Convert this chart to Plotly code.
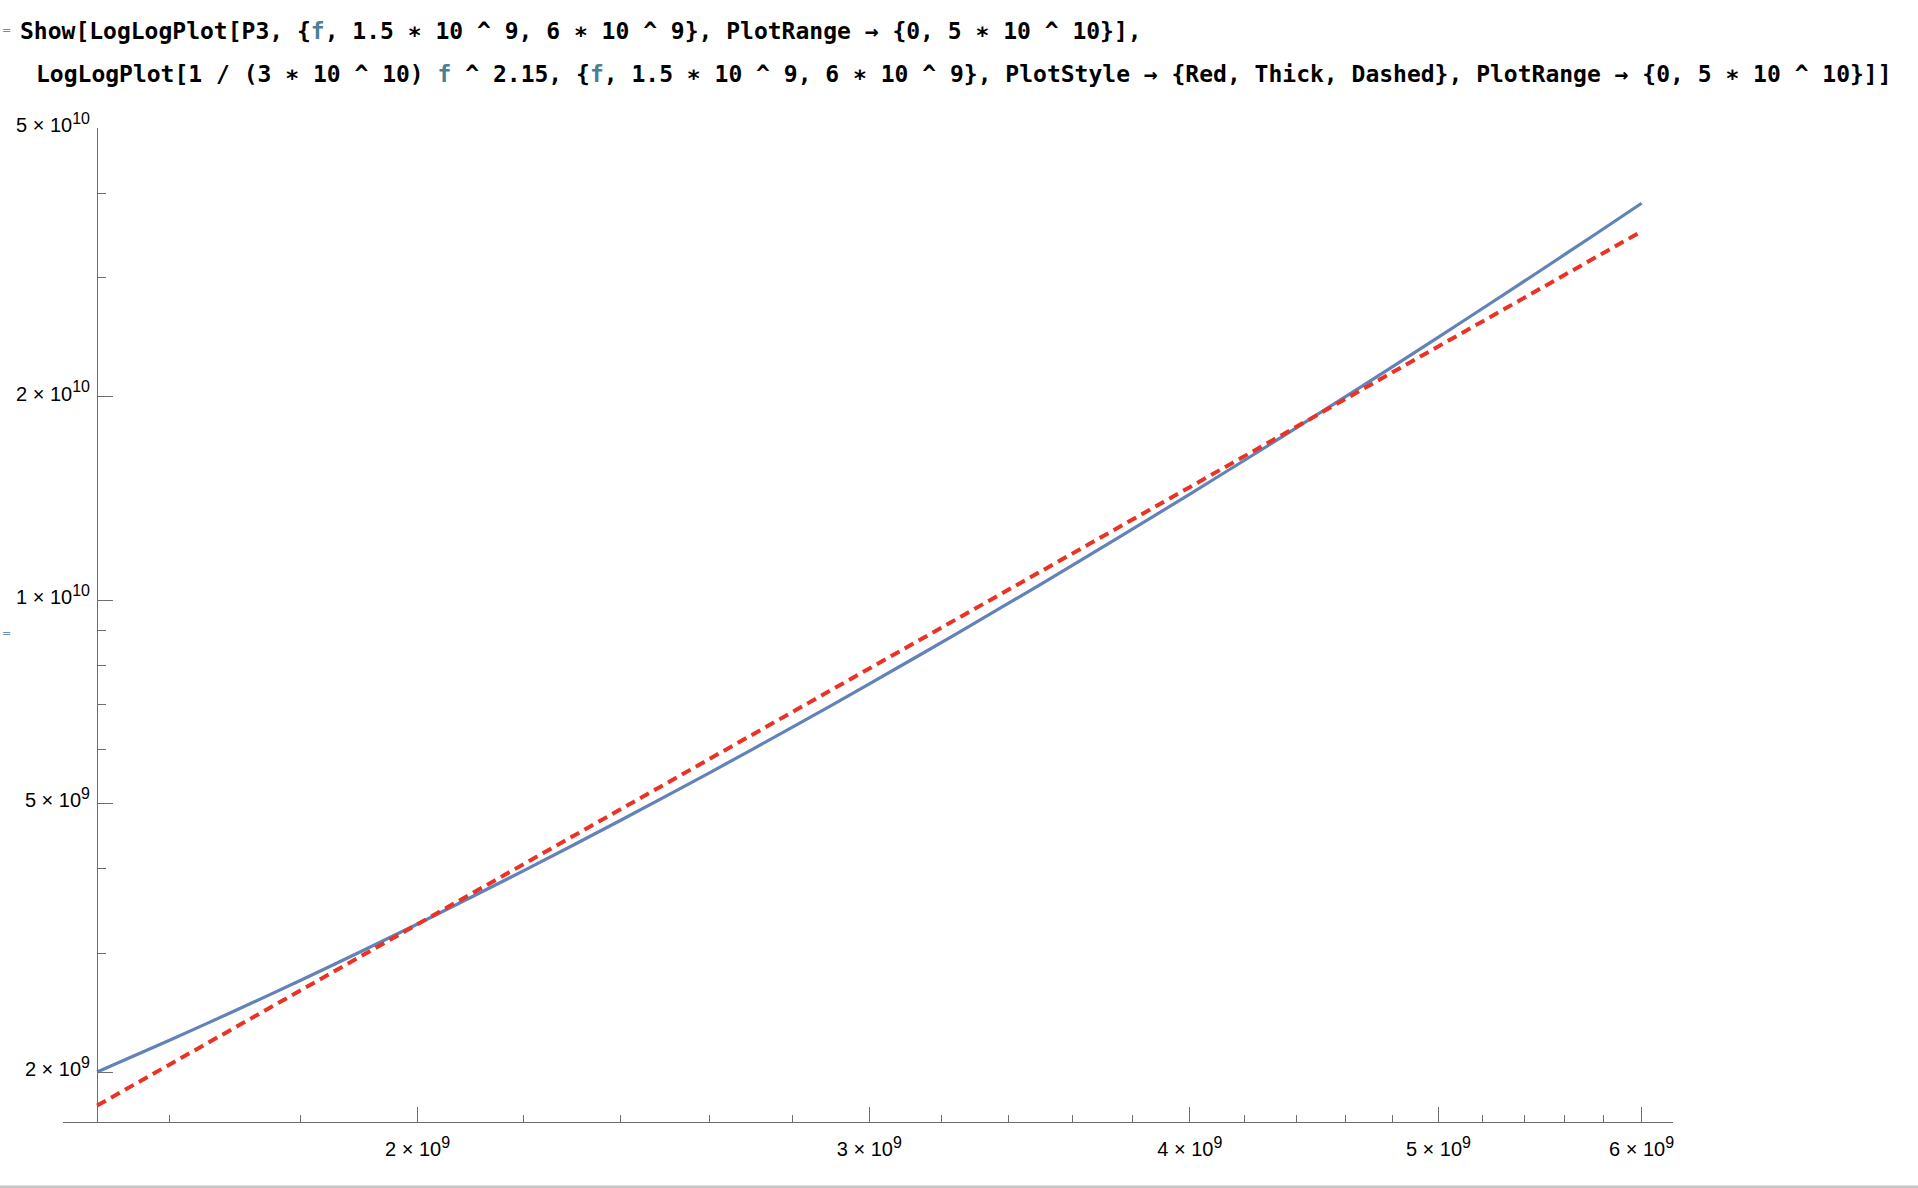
import plotly.graph_objects as go

# ---- data ----
f_blue = [1.5e9, 1.6e9, 1.7e9, 1.8e9, 1.9e9, 2.0e9, 2.2e9, 2.4e9, 2.6e9, 2.8e9, 3.0e9,
          3.25e9, 3.5e9, 3.75e9, 4.0e9, 4.25e9, 4.5e9, 4.75e9, 5.0e9, 5.25e9, 5.5e9,
          5.75e9, 6.0e9]
p3_blue = [2.000e9, 2.227e9, 2.471e9, 2.733e9, 3.014e9, 3.314e9, 3.974e9, 4.719e9, 5.553e9,
           6.482e9, 7.511e9, 8.950e9, 1.0560e10, 1.2357e10, 1.4354e10, 1.6551e10, 1.8972e10,
           2.1624e10, 2.4512e10, 2.7647e10, 3.1048e10, 3.4720e10, 3.868e10]
f_red = [1.5e9, 2.0e9, 3.0e9, 4.0e9, 5.0e9, 6.0e9]
fit_red = [1.784e9, 3.312e9, 7.92e9, 1.470e10, 2.375e10, 3.515e10]

x_major = [2e9, 3e9, 4e9, 5e9, 6e9]
x_major_mant = ["2", "3", "4", "5", "6"]
x_major_exp = ["9", "9", "9", "9", "9"]
x_minor = [1.6e9, 1.8e9, 2.2e9, 2.4e9, 2.6e9, 2.8e9, 3.2e9, 3.4e9, 3.6e9, 3.8e9,
           4.2e9, 4.4e9, 4.6e9, 4.8e9, 5.2e9, 5.4e9, 5.6e9, 5.8e9]
y_major = [2e9, 5e9, 1e10, 2e10, 5e10]
y_major_mant = ["2", "5", "1", "2", "5"]
y_major_exp = ["9", "9", "10", "10", "10"]
y_minor = [3e9, 4e9, 6e9, 7e9, 8e9, 9e9, 3e10, 4e10]


def sci_label(m, e):
    return m + ' × 10<sup><span style="font-size:16px">' + e + '</span></sup>'


x_major_text = [sci_label(m, e) for m, e in zip(x_major_mant, x_major_exp)]
y_major_text = [sci_label(m, e) for m, e in zip(y_major_mant, y_major_exp)]

FV = '<span style="color:#4a7f96">f</span>'
code_line1 = ('Show[LogLogPlot[P3, {' + FV + ', 1.5 ∗ 10 ^ 9, 6 ∗ 10 ^ 9}, '
              'PlotRange → {0, 5 ∗ 10 ^ 10}],')
code_line2 = ('LogLogPlot[1 / (3 ∗ 10 ^ 10) ' + FV + ' ^ 2.15, '
              '{' + FV + ', 1.5 ∗ 10 ^ 9, 6 ∗ 10 ^ 9}, '
              'PlotStyle → {Red, Thick, Dashed}, PlotRange → {0, 5 ∗ 10 ^ 10}]]')

# ---- layout geometry (pixels) ----
W, H = 1918, 1188
L, R, T, B = 63, 245, 128, 66
PW, PH = W - L - R, H - T - B


def px(xp):
    return (xp - L) / PW


def py(yp):
    return (H - B - yp) / PH


AX = "#6e6e6e"
TICKFONT = dict(family="Liberation Sans, Arial", size=20, color="black")

fig = go.Figure()
fig.add_trace(go.Scatter(x=f_blue, y=p3_blue, mode="lines",
                         line=dict(color="#6282b8", width=3.2, shape="spline", smoothing=0.6),
                         showlegend=False))
fig.add_trace(go.Scatter(x=f_red, y=fit_red, mode="lines",
                         line=dict(color="#ea3324", width=4, dash="10px,6px"), showlegend=False))

fig.update_layout(
    width=W, height=H,
    margin=dict(l=L, r=R, t=T, b=B, autoexpand=False),
    paper_bgcolor="white", plot_bgcolor="white",
    showlegend=False,
    xaxis=dict(
        type="log", range=[9.16280, 9.79039],
        showgrid=False, zeroline=False, showline=True, linecolor=AX, linewidth=1,
        ticks="inside", ticklen=15, tickwidth=1, tickcolor=AX,
        tickmode="array", tickvals=x_major, ticktext=x_major_text,
        tickfont=TICKFONT, ticklabelstandoff=9,
        minor=dict(ticks="inside", ticklen=7.5, tickwidth=1, tickcolor=AX,
                   tickmode="array", tickvals=x_minor, showgrid=False),
        automargin=False,
    ),
    yaxis=dict(
        type="log", range=[9.22707, 10.69897],
        anchor="free", position=px(97),
        showgrid=False, zeroline=False, showline=True, linecolor=AX, linewidth=1,
        ticks="inside", ticklen=15, tickwidth=1, tickcolor=AX,
        tickmode="array", tickvals=y_major, ticktext=y_major_text,
        tickfont=TICKFONT, ticklabelstandoff=3, ticklabelshift=-3,
        minor=dict(ticks="inside", ticklen=7.5, tickwidth=1, tickcolor=AX,
                   tickmode="array", tickvals=y_minor, showgrid=False),
        automargin=False,
    ),
)

code_font = dict(family="DejaVu Sans Mono", size=23, color="black", weight="bold")
fig.add_annotation(text=code_line1, xref="paper", yref="paper", x=px(18), y=py(31),
                   xanchor="left", yanchor="middle", showarrow=False, font=code_font)
fig.add_annotation(text=code_line2, xref="paper", yref="paper", x=px(34), y=py(74),
                   xanchor="left", yanchor="middle", showarrow=False, font=code_font)
for yy in (31, 633):
    fig.add_annotation(text="=", xref="paper", yref="paper", x=px(0), y=py(yy),
                       xanchor="left", yanchor="middle", showarrow=False,
                       font=dict(family="DejaVu Sans", size=11, color="#6f86b3"))

fig.add_shape(type="rect", xref="paper", yref="paper", x0=px(0), x1=px(W),
              y0=py(1185.5), y1=py(1188), line=dict(width=0), fillcolor="#c4c4c4")

fig.write_html("out.html", config={"displayModeBar": False},
               post_script="document.body.style.margin='0px';document.body.style.overflow='hidden';")
